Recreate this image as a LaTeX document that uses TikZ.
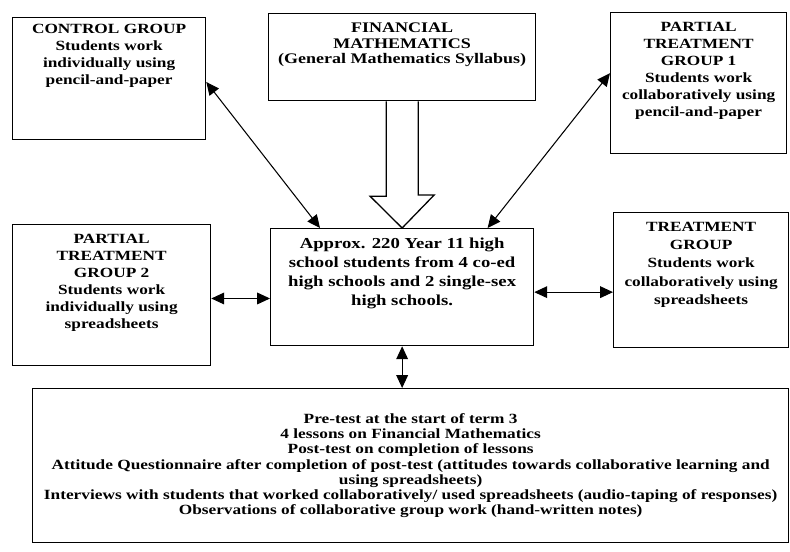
\documentclass[tikz,border=0pt]{standalone}
\usepackage{fontspec}
\setmainfont[FakeStretch=1.23]{Liberation Serif}
\usetikzlibrary{arrows.meta}
\begin{document}
\begin{tikzpicture}[x=0.03cm, y=-0.03cm,
  grpbox/.style={draw, line width=1.1pt, rectangle, inner sep=0pt, anchor=north west},
  grptext/.style={anchor=north, align=center, inner sep=0pt, font=\bfseries\fontsize{12}{14.5}\selectfont},
  dbl/.style={{Triangle[length=11pt,width=10pt]}-{Triangle[length=11pt,width=10pt]}, line width=0.9pt},
  hollow/.style={draw, line width=1.1pt, fill=white}]
\useasboundingbox (0,0) rectangle (790,551);
% boxes
\node[grpbox, minimum width=193*0.03cm, minimum height=122*0.03cm] (ctrl) at (12,17) {};
\node[grptext] (ctrltxt) at ([yshift=-0.2cm]ctrl.north) {CONTROL GROUP\\Students work\\individually using\\pencil-and-paper};
\node[grpbox, minimum width=267*0.03cm, minimum height=87*0.03cm] (fin) at (268,13) {};
\node[grptext, font=\bfseries\fontsize{12.5}{13.5}\selectfont] (fintxt) at ([yshift=-0.28cm]fin.north) {FINANCIAL\\MATHEMATICS\\(General Mathematics Syllabus)};
\node[grpbox, minimum width=176*0.03cm, minimum height=141*0.03cm] (ptga) at (610,12) {};
\node[grptext] (ptgatxt) at ([yshift=-0.3cm]ptga.north) {PARTIAL\\TREATMENT\\GROUP 1\\Students work\\collaboratively using\\pencil-and-paper};
\node[grpbox, minimum width=198*0.03cm, minimum height=141*0.03cm] (ptgb) at (12,224) {};
\node[grptext] (ptgbtxt) at ([yshift=-0.3cm]ptgb.north) {PARTIAL\\TREATMENT\\GROUP 2\\Students work\\individually using\\spreadsheets};
\node[grpbox, minimum width=263*0.03cm, minimum height=117*0.03cm] (cent) at (270,228) {};
\node[grptext, font=\bfseries\fontsize{13}{16}\selectfont] (centtxt) at ([yshift=-0.3cm]cent.north) {Approx. 220 Year 11 high\\school students from 4 co-ed\\high schools and 2 single-sex\\high schools.};
\node[grpbox, minimum width=175*0.03cm, minimum height=135*0.03cm] (treat) at (613,212) {};
\node[grptext, font=\bfseries\fontsize{12}{15.5}\selectfont] (treattxt) at ([yshift=-0.3cm]treat.north) {TREATMENT\\GROUP\\Students work\\collaboratively using\\spreadsheets};
\node[grpbox, minimum width=756*0.03cm, minimum height=154*0.03cm] (bot) at (32,388) {};
\node[grptext, anchor=center, font=\bfseries\fontsize{12}{13}\selectfont] (bottxt) at (bot.center) {Pre-test at the start of term 3\\4 lessons on Financial Mathematics\\Post-test on completion of lessons\\Attitude Questionnaire after completion of post-test (attitudes towards collaborative learning and\\using spreadsheets)\\Interviews with students that worked collaboratively/ used spreadsheets (audio-taping of responses)\\Observations of collaborative group work (hand-written notes)};
% arrows
\draw[hollow] ([xshift=-0.48cm]fin.south) -- ++(0,95) -- ++(-16,0) -- (cent.north) -- ++(32,-33) -- ++(-16,0) -- ([xshift=0.48cm]fin.south);
\draw[dbl] ([yshift=-0.1cm]ctrl.east) -- ([xshift=1.5cm]cent.north west);
\draw[dbl] ([yshift=0.3cm]ptga.west) -- ([xshift=-1.4cm]cent.north east);
\draw[dbl] ([yshift=-0.1cm]ptgb.east) -- ([yshift=-0.1cm]ptgb.east -| cent.west);
\draw[dbl] ([yshift=-0.15cm]cent.east) -- ([yshift=-0.15cm]cent.east -| treat.west);
\draw[dbl] (cent.south) -- (cent.south |- bot.north);
\end{tikzpicture}
\end{document}
